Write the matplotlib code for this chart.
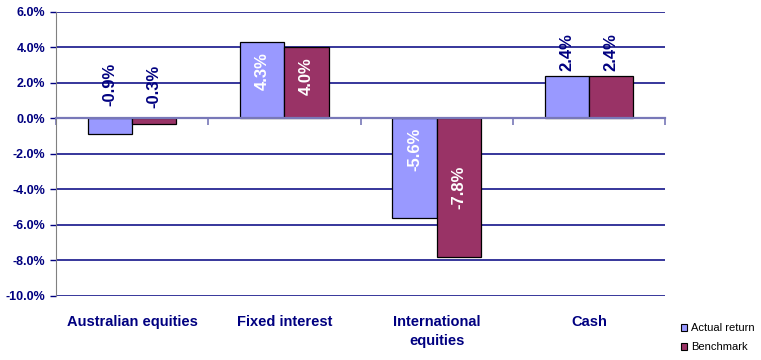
import matplotlib
matplotlib.use('Agg')
from matplotlib import pyplot as plt
from matplotlib.patches import Patch
import numpy as np

categories = ['Australian equities', 'Fixed interest', 'International\nequities', 'Cash']
actual_return = [-0.9, 4.3, -5.6, 2.4]
benchmark = [-0.3, 4.0, -7.8, 2.4]

navy = '#000080'
actual_color = '#9999FF'
bench_color = '#993366'

plt.rcParams['font.family'] = ['Liberation Sans', 'DejaVu Sans']

fig = plt.figure(figsize=(7.61, 3.6), dpi=100)
ax = fig.add_axes([0.0736, 0.178, 0.8003, 0.789])

x = np.arange(len(categories))
w = 0.29
b1 = ax.bar(x - w / 2, actual_return, w, color=actual_color, edgecolor='black', linewidth=0.9, zorder=3)
b2 = ax.bar(x + w / 2, benchmark, w, color=bench_color, edgecolor='black', linewidth=0.9, zorder=3)

# label offsets from the bar end, in pixels (up is positive)
offsets = [[49.5, 37], [-29, -29], [68, 69.5], [24, 24]]
label_colors = [navy, 'white', 'white', navy]
for i in range(len(categories)):
    for j, (bars, vals) in enumerate([(b1, actual_return), (b2, benchmark)]):
        bar = bars[i]
        ax.annotate(f'{vals[i]:.1f}%', (bar.get_x() + bar.get_width() / 2, vals[i]),
                    xytext=(0, offsets[i][j] * 0.72), textcoords='offset points',
                    ha='center', va='center', rotation=90, fontsize=12,
                    fontweight='bold', color=label_colors[i], zorder=4)

ax.set_xlim(-0.5, 3.5)
ax.set_ylim(-10, 6)
ax.set_yticks(np.arange(-10, 7, 2))
ax.set_yticklabels([f'{v:.1f}%' for v in np.arange(-10, 7, 2)])
ax.tick_params(axis='y', colors=navy, labelsize=9, length=4, width=1)
for lab in ax.get_yticklabels():
    lab.set_fontweight('bold')

ax.yaxis.grid(True, color=navy, linewidth=1.1)
ax.set_axisbelow(True)

for s in ['top', 'right']:
    ax.spines[s].set_visible(False)
ax.spines['left'].set_color('#808080')
ax.spines['bottom'].set_position(('data', 0))
ax.spines['bottom'].set_color('#7878B8')
ax.spines['bottom'].set_linewidth(1.6)
ax.spines['bottom'].set_zorder(3.5)

ax.set_xticks(x)
ax.set_xticklabels([])
ax.tick_params(axis='x', which='major', length=0)
ax.set_xticks(np.arange(-0.5, 4, 1), minor=True)
ax.tick_params(axis='x', which='minor', length=5, color='#7878B8', width=1.2, direction='out')

for xi, name in zip(x, categories):
    ax.text(xi, -0.068, name, transform=ax.get_xaxis_transform(), ha='center', va='top',
            fontsize=10.5, fontweight='bold', color=navy, linespacing=1.45)

handles = [Patch(facecolor=actual_color, edgecolor='black', linewidth=0.8),
           Patch(facecolor=bench_color, edgecolor='black', linewidth=0.8)]
fig.legend(handles, ['Actual return', 'Benchmark'], loc='center left',
           bbox_to_anchor=(0.8945, 0.062), frameon=False, fontsize=8,
           handlelength=0.6, handleheight=0.6, handletextpad=0.3, labelspacing=0.8,
           borderaxespad=0, borderpad=0)

fig.savefig('out.png', dpi=100)
